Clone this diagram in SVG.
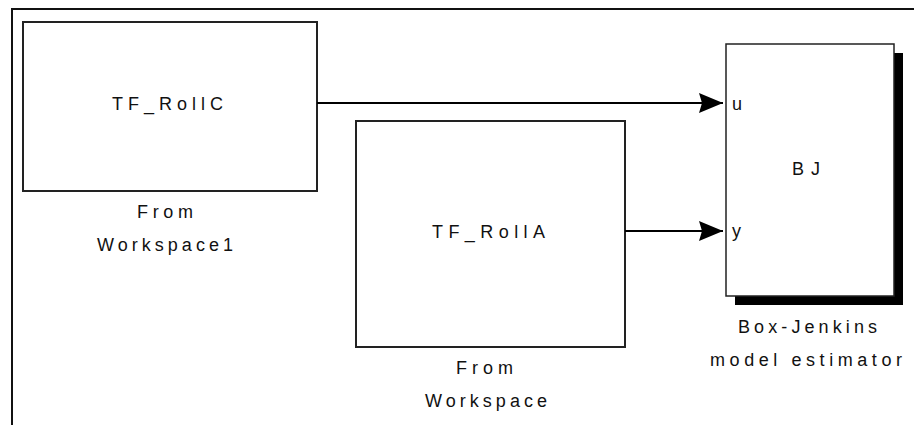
<svg xmlns="http://www.w3.org/2000/svg" width="914" height="425" viewBox="0 0 914 425">
<style>
.blk{fill:#fff;stroke:#222;stroke-width:2}
.t{font-family:"Liberation Sans",Arial,sans-serif;font-size:18px;fill:#111}
.c{text-anchor:middle}
.wire{stroke:#000;stroke-width:2;fill:none}
</style>
<defs>
<marker id="ah" markerWidth="24" markerHeight="20" refX="24" refY="10" orient="auto" markerUnits="userSpaceOnUse">
<path d="M0,0 L24,10 L0,20 L3,10 Z" fill="#000"/>
</marker>
</defs>
<rect x="0" y="0" width="914" height="425" fill="#fff"/>
<path d="M12,425 V9 H914" fill="none" stroke="#111" stroke-width="2"/>
<g id="from-workspace1">
<rect class="blk" x="23" y="22" width="294" height="169"/>
<text class="t c" x="167.5" y="110" textLength="111" lengthAdjust="spacing">TF_RollC</text>
<text class="t c" x="165" y="218" textLength="56" lengthAdjust="spacing">From</text>
<text class="t c" x="165" y="251" textLength="136" lengthAdjust="spacing">Workspace1</text>
</g>
<g id="from-workspace">
<rect class="blk" x="356" y="121" width="269" height="226"/>
<text class="t c" x="488.5" y="238" textLength="113" lengthAdjust="spacing">TF_RollA</text>
<text class="t c" x="484.5" y="374" textLength="57" lengthAdjust="spacing">From</text>
<text class="t c" x="486" y="407" textLength="122" lengthAdjust="spacing">Workspace</text>
</g>
<g id="bj">
<rect x="735" y="53" width="168" height="252" fill="#000"/>
<rect x="726" y="44" width="168" height="252" fill="#fff" stroke="#222" stroke-width="1.5"/>
<text class="t" x="732" y="110">u</text>
<text class="t" x="732" y="237">y</text>
<text class="t c" x="806" y="175" textLength="28" lengthAdjust="spacing">BJ</text>
<text class="t c" x="807.5" y="333" textLength="139" lengthAdjust="spacing">Box-Jenkins</text>
<text class="t c" x="806" y="366" textLength="192" lengthAdjust="spacing">model estimator</text>
</g>
<g id="connectors">
<path class="wire" d="M317,103 H723" marker-end="url(#ah)"/>
<path class="wire" d="M625,231 H723" marker-end="url(#ah)"/>
</g>
</svg>
